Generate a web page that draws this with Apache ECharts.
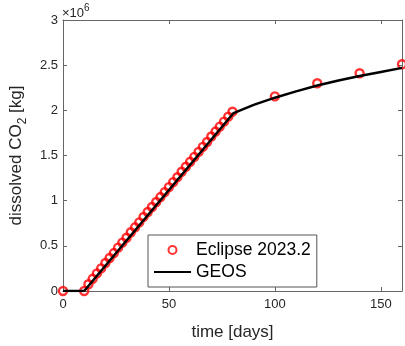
<!DOCTYPE html>
<html><head><meta charset="utf-8">
<script src="https://cdn.jsdelivr.net/npm/echarts@6/dist/echarts.min.js"></script>
<style>html,body{margin:0;padding:0;background:#fff}#c{width:405px;height:346px}</style>
</head><body><div id="c"></div>
<script>
// dissolved CO2, in units of 1e6 kg
const eclipseDays = [0, 10, 12, 14, 16, 18, 20, 22, 24, 26, 28, 30, 32, 34, 36, 38, 40, 42, 44, 46, 48, 50, 52, 54, 56, 58, 60, 62, 64, 66, 68, 70, 72, 74, 76, 78, 80, 100, 120, 140, 160];
const eclipseVals = [0, 0, 0.075, 0.135, 0.195, 0.25, 0.31, 0.365, 0.42, 0.48, 0.535, 0.59, 0.65, 0.705, 0.76, 0.82, 0.875, 0.93, 0.985, 1.04, 1.095, 1.15, 1.205, 1.26, 1.32, 1.375, 1.43, 1.485, 1.54, 1.595, 1.65, 1.71, 1.765, 1.82, 1.875, 1.93, 1.985, 2.155, 2.30, 2.41, 2.51];
const geosDays = [0, 10, 80.5, 90, 100, 110, 120, 130, 140, 150, 160];
const geosVals = [0, 0, 1.97, 2.06, 2.14, 2.21, 2.275, 2.33, 2.38, 2.425, 2.47];
const xTicks = [0, 50, 100, 150];
const yTicks = [0, 0.5, 1, 1.5, 2, 2.5, 3];

const chart = echarts.init(document.getElementById('c'), null, {renderer: 'canvas'});
const axisCol = '#666';
const txtCol = '#262626';
const font = 'Liberation Sans, Arial, Helvetica, sans-serif';
const common = {axisLine: {show: true, onZero: false, lineStyle: {color: axisCol, width: 1}},
  axisTick: {show: true, inside: true, length: 4, lineStyle: {color: axisCol}}, splitLine: {show: false}};
chart.setOption({
  animation: false,
  textStyle: {fontFamily: font},
  grid: {left: 60, right: 2, top: 20, bottom: 51, containLabel: false},
  graphic: [{type: 'text', left: 62, top: 3, style: {
    text: '{a|×10}{b|6}', rich: {a: {fontSize: 13, fill: txtCol, fontFamily: font, verticalAlign: 'bottom', lineHeight: 17},
      b: {fontSize: 10, fill: txtCol, fontFamily: font, verticalAlign: 'top', lineHeight: 17, padding: [0, 0, 6, 0]}}}}],
  xAxis: [
    Object.assign({type: 'value', position: 'bottom', min: 0, max: 160, interval: 50,
      name: 'time [days]', nameLocation: 'middle', nameGap: 33,
      nameTextStyle: {fontSize: 17, color: txtCol, fontFamily: font},
      axisLabel: {color: txtCol, fontSize: 13, margin: 7, fontFamily: font,
        formatter: v => (xTicks.indexOf(v) >= 0 ? String(v) : '')}}, common),
    Object.assign({type: 'value', position: 'top', min: 0, max: 160, interval: 50, axisLabel: {show: false}}, common)
  ],
  yAxis: [
    Object.assign({type: 'value', position: 'left', min: 0, max: 3, interval: 0.5,
      name: '{a|dissolved CO}{s|2}{a| [kg]}', nameLocation: 'middle', nameGap: 38, nameRotate: 90,
      nameTextStyle: {color: txtCol, rich: {
        a: {fontSize: 17, color: txtCol, fontFamily: font, lineHeight: 22, verticalAlign: 'bottom'},
        s: {fontSize: 12, color: txtCol, fontFamily: font, lineHeight: 22, verticalAlign: 'bottom', padding: [0, 0, -4, 0]}}},
      axisLabel: {color: txtCol, fontSize: 13, margin: 5, fontFamily: font,
        formatter: v => (yTicks.indexOf(v) >= 0 ? String(v) : '')}}, common),
    Object.assign({type: 'value', position: 'right', min: 0, max: 3, interval: 0.5, axisLabel: {show: false}}, common)
  ],
  legend: {
    orient: 'vertical', left: 148, top: 235, padding: [5, 6, 5, 5], itemGap: 2,
    itemWidth: 37, itemHeight: 8,
    backgroundColor: '#fff', borderColor: '#555', borderWidth: 1, borderRadius: 0,
    textStyle: {fontSize: 17.5, color: '#000', fontFamily: font, lineHeight: 20},
    data: ['Eclipse 2023.2',
      {name: 'GEOS', itemStyle: {color: 'rgba(0,0,0,0)', borderColor: 'rgba(0,0,0,0)', borderWidth: 0}}]
  },
  series: [
    {name: 'Eclipse 2023.2', type: 'scatter', symbol: 'circle', symbolSize: 8,
      itemStyle: {color: 'rgba(0,0,0,0)', borderColor: '#ff0000', borderWidth: 2.4}, z: 2,
      data: eclipseDays.map((d, i) => [d, eclipseVals[i]])},
    {name: 'GEOS', type: 'line', symbol: 'none', showSymbol: false, z: 3,
      lineStyle: {color: '#000', width: 2.5}, itemStyle: {color: '#000'},
      data: geosDays.map((d, i) => [d, geosVals[i]])}
  ]
});
</script></body></html>
